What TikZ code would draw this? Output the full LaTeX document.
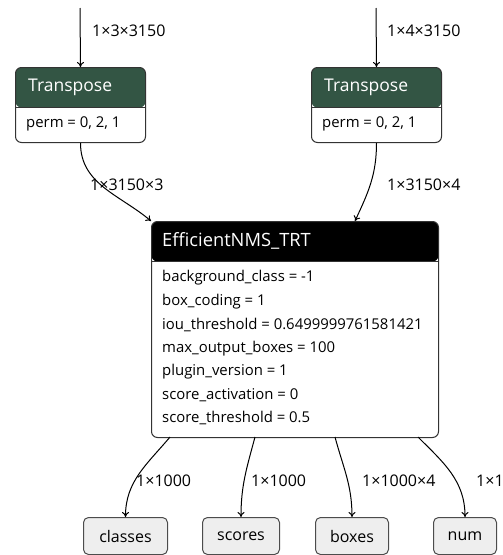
\documentclass[tikz,border=0pt]{standalone}
\usepackage{fontspec}
\setmainfont{Open Sans}
\usetikzlibrary{arrows.meta}
\definecolor{transgreen}{HTML}{335544}
\definecolor{outfill}{HTML}{EEEEEE}
\tikzset{
  opbox/.style={draw=black!80, line width=1pt, rounded corners=6pt, inner sep=0pt, anchor=north west,
    path picture={\fill[#1] (path picture bounding box.north west) rectangle ([yshift=-40pt]path picture bounding box.north east);
      \draw[black!80, line width=1pt] ([yshift=-40pt]path picture bounding box.north west) -- ([yshift=-40pt]path picture bounding box.north east);}},
  headtxt/.style={text=white, anchor=west, inner sep=0pt, font=\fontsize{17.5}{20}\selectfont},
  attrtxt/.style={anchor=west, inner sep=0pt, font=\fontsize{14.9}{17}\selectfont},
  shapetxt/.style={anchor=west, inner sep=0pt, font=\fontsize{16}{18}\selectfont},
  outbox/.style={draw=black!70, fill=outfill, line width=1pt, rounded corners=5pt, inner sep=0pt, anchor=north west, font=\fontsize{16}{18}\selectfont},
  edge/.style={draw, line width=1pt, -{To[length=5pt,width=7pt]}}
}
\begin{document}
\begin{tikzpicture}[x=1pt,y=1pt]
\useasboundingbox (0,0) rectangle (503,-555);
% transpose nodes
\node[opbox=transgreen, minimum width=130, minimum height=75] (t1) at (15,-67) {};
\node[headtxt] (t1h) at (28,-87) {Transpose};
\node[attrtxt] (t1a) at (26,-124) {perm = 0, 2, 1};
\node[opbox=transgreen, minimum width=130, minimum height=75] (t2) at (311,-67) {};
\node[headtxt] (t2h) at (324,-87) {Transpose};
\node[attrtxt] (t2a) at (322,-124) {perm = 0, 2, 1};
% nms node
\node[opbox=black, minimum width=287, minimum height=216] (nms) at (151,-221) {};
\node[headtxt, font=\fontsize{18.3}{20}\selectfont] (nmsh) at (162,-241) {EfficientNMS\_TRT};
\foreach \txt [count=\i] in {background\_class = -1, box\_coding = 1,
    iou\_threshold = 0.6499999761581421, max\_output\_boxes = 100,
    plugin\_version = 1, score\_activation = 0, score\_threshold = 0.5}
  \node[attrtxt] (nmsa\i) at (162,-278-23.4*\i+23.4) {\txt};
% outputs
\node[outbox, minimum width=84, minimum height=37] (classes) at (83,-517) {classes};
\node[outbox, minimum width=77, minimum height=37] (scores) at (202,-517) {scores};
\node[outbox, minimum width=73, minimum height=37] (boxes) at (315,-517) {boxes};
\node[outbox, minimum width=63, minimum height=37] (num) at (433,-517) {num};
% edge ends
\coordinate (in1) at (80,-8);
\coordinate (in2) at (376,-8);
\coordinate (nmsin2) at (355,-221);
\coordinate (o1) at (170,-437);
\coordinate (o2) at (255,-437);
\coordinate (o3) at (335,-437);
\coordinate (o4) at (418,-437);
% edges
\draw[edge] (in1) -- (t1.north);
\draw[edge] (in2) -- (t2.north);
\draw[edge] (t1.south) to[out=-90,in=140] (nms.north west);
\draw[edge] (t2.south) to[out=-90,in=65] (nmsin2);
\draw[edge] (o1) to[out=-130,in=90] (classes.north);
\draw[edge] (o2) to[out=-105,in=90] (scores.north);
\draw[edge] (o3) to[out=-75,in=90] (boxes.north);
\draw[edge] (o4) to[out=-45,in=90] (num.north);
% shape labels
\node[shapetxt] (l1) at (92,-31) {1×3×3150};
\node[shapetxt] (l2) at (387,-31) {1×4×3150};
\node[shapetxt] (l3) at (90,-185) {1×3150×3};
\node[shapetxt] (l4) at (387,-185) {1×3150×4};
\node[shapetxt] (l5) at (136,-481) {1×1000};
\node[shapetxt] (l6) at (251,-481) {1×1000};
\node[shapetxt] (l7) at (362,-481) {1×1000×4};
\node[shapetxt] (l8) at (476,-481) {1×1};
\end{tikzpicture}
\end{document}
